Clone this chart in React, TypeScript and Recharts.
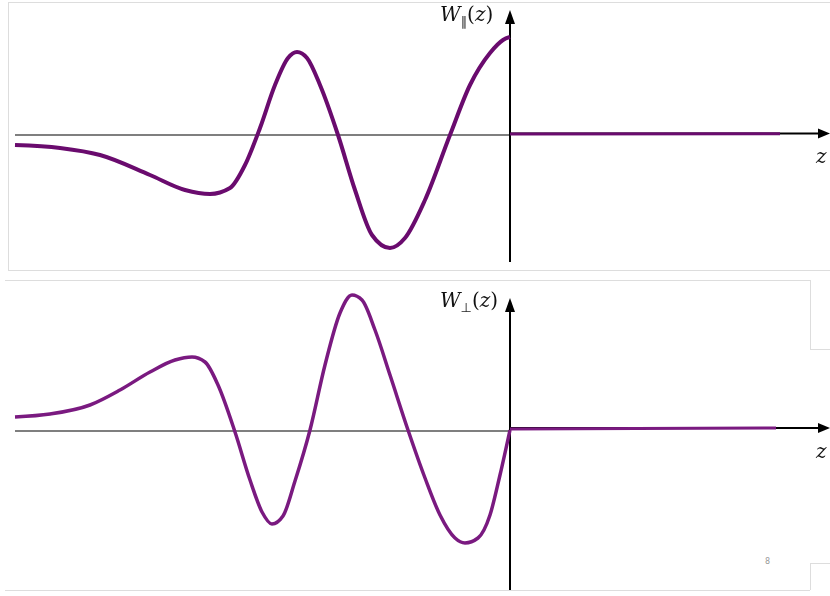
import React from "react";
import { LineChart, Line, XAxis, YAxis, ReferenceLine } from "recharts";

// Top panel: W_parallel(z)
const parZ = [-9.9, -9.0, -8.2, -7.2, -6.5, -6.0, -5.6, -5.3, -5.0, -4.7, -4.44, -4.26, -4.06, -3.8, -3.44, -3.1, -2.76, -2.4, -2.1, -1.7, -1.2, -0.8, -0.4, -0.14, 0];
const parW = [-0.1, -0.13, -0.2, -0.4, -0.55, -0.59, -0.53, -0.3, 0.07, 0.5, 0.77, 0.83, 0.77, 0.5, 0.0, -0.55, -1.0, -1.13, -1.03, -0.65, 0.0, 0.5, 0.82, 0.95, 0.98];
const parRightZ = [0, 5.4];
const parRightW = [0.01, 0.012];

// Bottom panel: W_perp(z)
const perpZ = [-9.9, -9.2, -8.4, -7.8, -7.2, -6.7, -6.36, -6.1, -5.84, -5.5, -5.2, -4.96, -4.76, -4.54, -4.3, -4.0, -3.7, -3.4, -3.16, -2.96, -2.7, -2.4, -2.04, -1.7, -1.4, -1.1, -0.9, -0.64, -0.4, -0.2, 0];
const perpW = [0.14, 0.17, 0.26, 0.41, 0.59, 0.71, 0.74, 0.69, 0.46, -0.01, -0.49, -0.81, -0.93, -0.85, -0.5, 0.01, 0.66, 1.18, 1.36, 1.31, 1.01, 0.56, 0.01, -0.47, -0.84, -1.07, -1.12, -1.07, -0.84, -0.44, 0.01];
const perpRightZ = [0, 5.32];
const perpRightW = [0.02, 0.03];

const zip = (zs: number[], ws: number[]) => zs.map((z, i) => ({ z, w: ws[i] }));

const HArrow = (props: any) => {
  const { x1, y1, x2, y2 } = props;
  return (
    <g>
      <line x1={x1} y1={y1} x2={x2 - 8} y2={y2} stroke="#000" strokeWidth={2} />
      <polygon points={`${x2},${y2} ${x2 - 12},${y2 - 5} ${x2 - 12},${y2 + 5}`} fill="#000" />
    </g>
  );
};

const VArrow = (props: any) => {
  const { x1, y1, x2, y2 } = props;
  return (
    <g>
      <line x1={x1} y1={y1} x2={x2} y2={y2 + 8} stroke="#000" strokeWidth={2} />
      <polygon points={`${x2},${y2} ${x2 - 5},${y2 + 14} ${x2 + 5},${y2 + 14}`} fill="#000" />
    </g>
  );
};

const mathFont = "'DejaVu Serif', 'Liberation Serif', serif";
const symFont = "'DejaVu Sans', 'Noto Sans', sans-serif";

const Panel = ({
  width, height, yDomain, left, rightFlat, color, vBottom, vTop, hRightY, strokeW,
}: any) => (
  <LineChart width={width} height={height} margin={{ top: 0, right: 0, bottom: 0, left: 0 }}>
    <XAxis type="number" dataKey="z" domain={[-10.2, 6.4]} hide allowDataOverflow />
    <YAxis type="number" domain={yDomain} hide allowDataOverflow />
    <ReferenceLine
      segment={[{ x: -9.9, y: 0 }, { x: 0, y: 0 }]}
      stroke="#555"
      strokeWidth={1.5}
      ifOverflow="visible"
    />
    <ReferenceLine
      segment={[{ x: 0, y: hRightY }, { x: 6.4, y: hRightY }]}
      shape={HArrow}
      ifOverflow="visible"
    />
    <ReferenceLine
      segment={[{ x: 0, y: vBottom }, { x: 0, y: vTop }]}
      shape={VArrow}
      ifOverflow="visible"
    />
    <Line data={left} dataKey="w" type="monotone" stroke={color} strokeWidth={strokeW} strokeLinecap="butt" dot={false} activeDot={false} isAnimationActive={false} />
    <Line data={rightFlat} dataKey="w" type="linear" stroke={color} strokeWidth={3} strokeLinecap="butt" dot={false} activeDot={false} isAnimationActive={false} />
  </LineChart>
);

const labelStyle: React.CSSProperties = {
  position: "absolute",
  fontFamily: mathFont,
  fontSize: 20,
  color: "#111",
  whiteSpace: "nowrap",
  willChange: "transform",
  transform: "translateZ(0)",
};

const subStyle: React.CSSProperties = {
  fontSize: 13,
  fontStyle: "normal",
  fontFamily: symFont,
  color: "#222",
};

export default function App() {
  return (
    <div style={{ position: "absolute", left: 0, top: 0, width: 830, height: 596, background: "#fff", overflow: "hidden" }}>
      {/* panel frames */}
      <div style={{ position: "absolute", left: 8, top: 2, width: 840, height: 267, borderTop: "1px solid #ddd", borderLeft: "1px solid #ddd", borderBottom: "1px solid #ddd" }} />
      <div style={{ position: "absolute", left: 5, top: 280, width: 805, height: 0, borderTop: "1px solid #ddd" }} />
      <div style={{ position: "absolute", left: 810, top: 280, width: 0, height: 69, borderLeft: "1px solid #ddd" }} />
      <div style={{ position: "absolute", left: 810, top: 349, width: 30, height: 0, borderTop: "1px solid #ddd" }} />
      <div style={{ position: "absolute", left: 5, top: 590, width: 805, height: 0, borderTop: "1px solid #ddd" }} />
      <div style={{ position: "absolute", left: 810, top: 563, width: 0, height: 27, borderLeft: "1px solid #ddd" }} />
      <div style={{ position: "absolute", left: 810, top: 563, width: 30, height: 0, borderTop: "1px solid #ddd" }} />
      <div style={{ position: "absolute", left: 765, top: 557, fontSize: 8, color: "#999", fontFamily: "'DejaVu Sans', sans-serif" }}>8</div>

      <div style={{ position: "absolute", left: 0, top: 0 }}>
        <Panel
          width={830} height={270} yDomain={[-1.35, 1.35]}
          left={zip(parZ, parW)} rightFlat={zip(parRightZ, parRightW)}
          color="#6a0b6e" vBottom={-1.27} vTop={1.25} hRightY={0.015} strokeW={4}
        />
      </div>
      <div style={{ position: "absolute", left: 0, top: 280 }}>
        <Panel
          width={830} height={316} yDomain={[-1.65, 1.51]}
          left={zip(perpZ, perpW)} rightFlat={zip(perpRightZ, perpRightW)}
          color="#7a1a80" vBottom={-1.59} vTop={1.33} hRightY={0.03} strokeW={3.5}
        />
      </div>

      {/* labels */}
      <div style={{ ...labelStyle, left: 440, top: 2 }}>
        <i>W</i><sub style={subStyle}>{"\u2225"}</sub>(<i>z</i>)
      </div>
      <div style={{ ...labelStyle, left: 440, top: 288 }}>
        <i>W</i><sub style={subStyle}>{"\u22A5"}</sub>(<i>z</i>)
      </div>
      <div style={{ ...labelStyle, left: 816, top: 144, fontStyle: "italic" }}>z</div>
      <div style={{ ...labelStyle, left: 816, top: 439, fontStyle: "italic" }}>z</div>
    </div>
  );
}
